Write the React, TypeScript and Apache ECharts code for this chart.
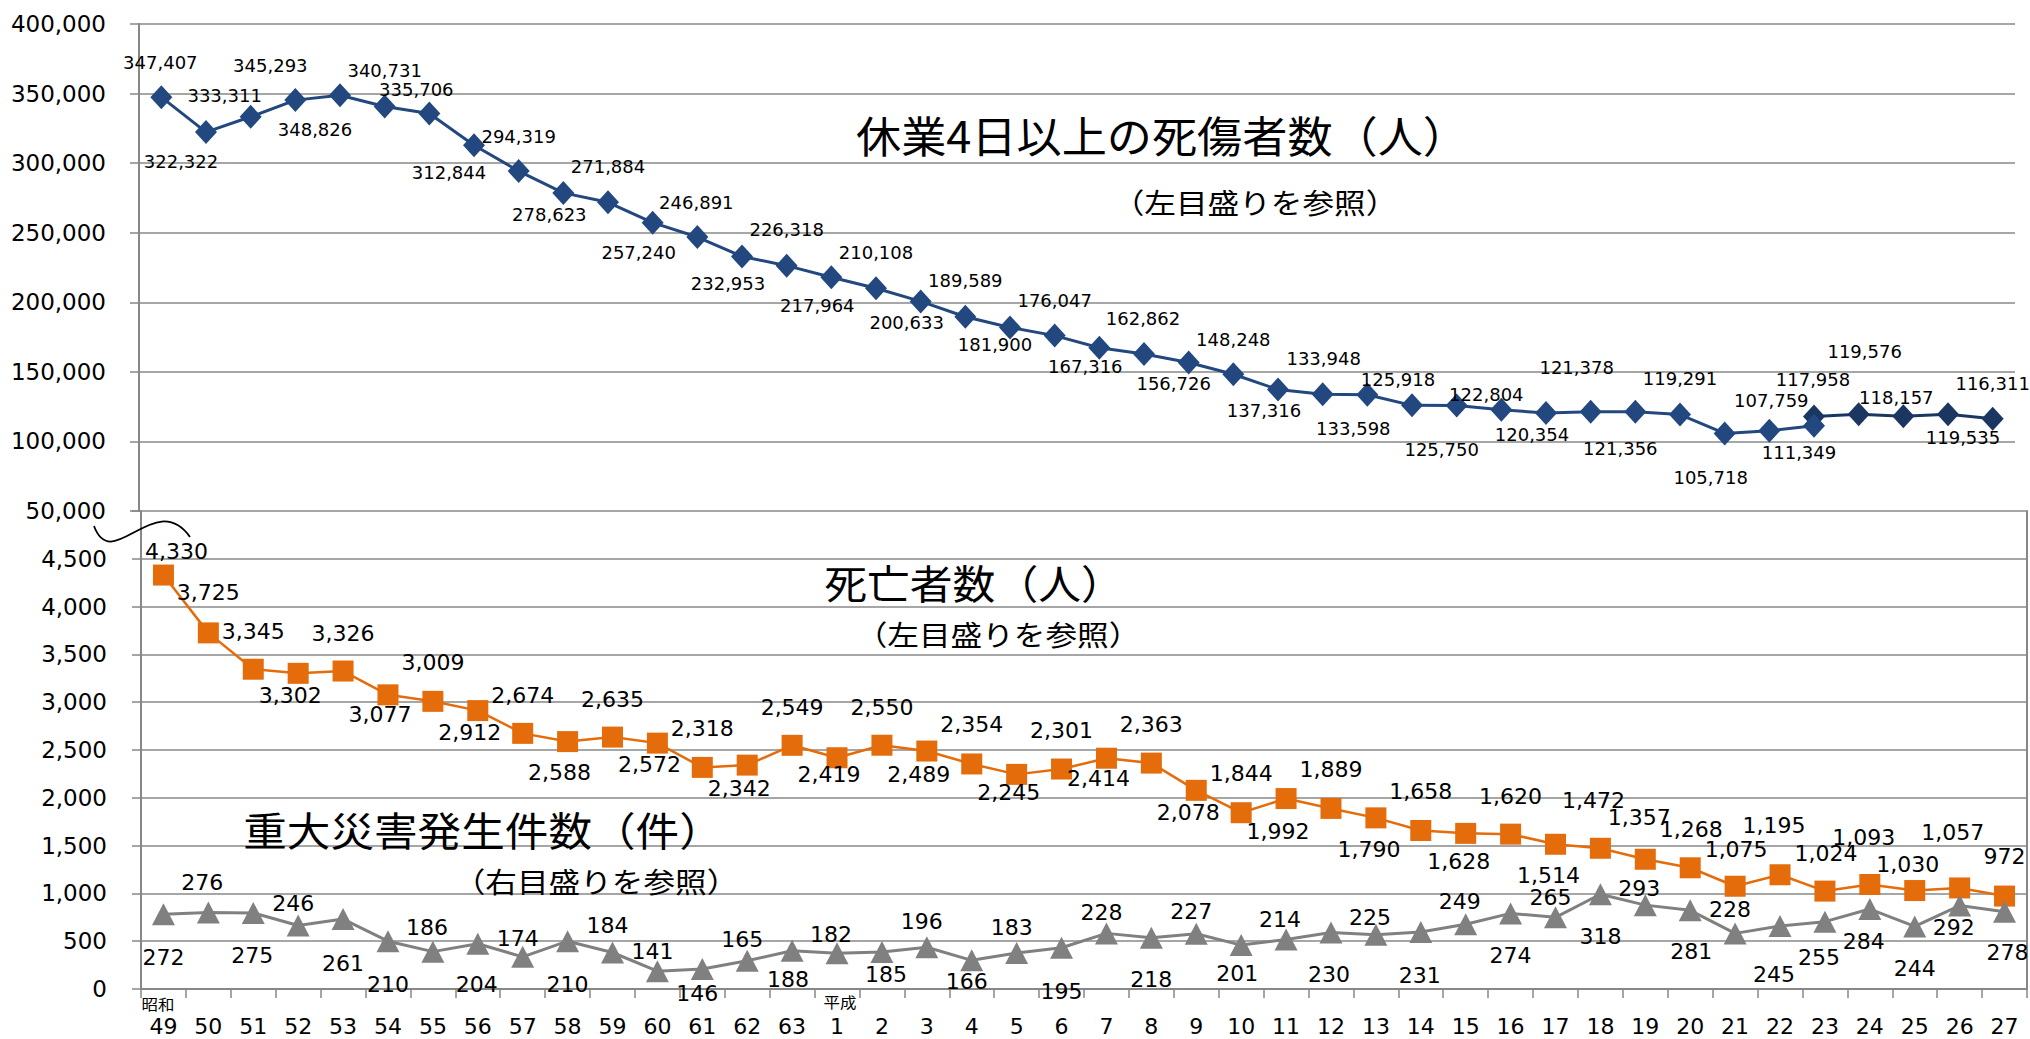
import React, { useEffect, useRef } from "react";
import * as echarts from "echarts";

// ---- categories (年) ----
const years = [
  "49", "50", "51", "52", "53", "54", "55", "56", "57", "58", "59", "60", "61", "62", "63",
  "1", "2", "3", "4", "5", "6", "7", "8", "9", "10", "11", "12", "13", "14", "15", "16",
  "17", "18", "19", "20", "21", "22", "23", "24", "25", "26", "27",
];

// 休業4日以上の死傷者数 (S49 .. H23)
const injuriesOld = [
  347407, 322322, 333311, 345293, 348826, 340731, 335706, 312844, 294319, 278623, 271884,
  257240, 246891, 232953, 226318, 217964, 210108, 200633, 189589, 181900, 176047, 167316,
  162862, 156726, 148248, 137316, 133948, 133598, 125918, 125750, 122804, 120354, 121378,
  121356, 119291, 105718, 107759, 111349,
];
// 休業4日以上の死傷者数 (H23 .. H27)
const injuriesNew = [117958, 119576, 118157, 119535, 116311];
const injuriesNewStart = 37;

// 死亡者数
const deaths = [
  4330, 3725, 3345, 3302, 3326, 3077, 3009, 2912, 2674, 2588, 2635, 2572, 2318, 2342, 2549,
  2419, 2550, 2489, 2354, 2245, 2301, 2414, 2363, 2078, 1844, 1992, 1889, 1790, 1658, 1628,
  1620, 1514, 1472, 1357, 1268, 1075, 1195, 1024, 1093, 1030, 1057, 972,
];

// 重大災害発生件数
const serious = [
  272, 276, 275, 246, 261, 210, 186, 204, 174, 210, 184, 141, 146, 165, 188,
  182, 185, 196, 166, 183, 195, 228, 218, 227, 201, 214, 230, 225, 231, 249,
  274, 265, 318, 293, 281, 228, 245, 255, 284, 244, 292, 278,
];

// ---- label placement (offset of each value label from its marker) ----
const injuriesOldLabelOffsets = [
  [-1, -35], [-25, 29], [-26, -21], [-25, -35], [-25, 34], [0, -36], [-13, -24], [-25, 27],
  [0, -35], [-14, 22], [0, -36], [-14, 30], [-1, -35], [-14, 27], [0, -36], [-14, 28],
  [0, -36], [-14, 21], [0, -36], [-15, 17], [0, -35], [-14, 19], [-1, -35], [-15, 21],
  [0, -35], [-14, 21], [1, -36], [-14, 34], [-14, -26], [-15, 44], [-15, -15], [-14, 21],
  [-14, -44], [-15, 37], [0, -36], [-14, 44], [2, -30], [-15, 27],
];
const injuriesNewLabelOffsets = [[-1, -37], [6, -63], [-7, -19], [15, 23], [0, -35]];
const deathsLabelOffsets = [
  [13, -24], [0, -40], [0, -38], [-8, 22], [0, -38], [-8, 20], [0, -39], [-8, 22],
  [0, -38], [-8, 31], [0, -38], [-8, 21], [0, -39], [-8, 23], [0, -38], [-8, 17],
  [0, -38], [-8, 23], [0, -39], [-8, 18], [0, -39], [-8, 20], [0, -39], [-8, 22],
  [0, -39], [-8, 33], [0, -39], [-7, 32], [0, -39], [-7, 28], [0, -38], [-7, 31],
  [-7, -48], [-6, -42], [1, -38], [1, -37], [-6, -49], [1, -38], [-6, -47], [-7, -26],
  [-7, -55], [0, -40],
];
const seriousLabelOffsets = [
  [0, 43], [-6, -30], [-1, 43], [-5, -22], [0, 44], [0, 43], [-6, -24], [-1, 41],
  [-5, -18], [0, 43], [-5, -27], [-5, -20], [-5, 24], [-5, -21], [-4, 29], [-6, -19],
  [4, 22], [-5, -26], [-5, 21], [-5, -25], [0, 44], [-5, -21], [0, 42], [-5, -22],
  [-4, 28], [-6, -20], [-2, 42], [-6, -17], [-1, 43], [-6, -23], [0, 42], [-5, -20],
  [0, 42], [-6, -17], [1, 41], [-5, -24], [-6, 49], [-6, 36], [-6, 32], [0, 42],
  [-6, 22], [3, 41],
];

const NUM_FONT = "DejaVu Sans";
const JP_FONT = "Noto Sans CJK JP";
const AXIS_GREY = "#878787";
const GRID_GREY = "#a6a6a6";

const fmt = (v: number) => Number(v).toLocaleString("en-US");

function withLabels(values: number[], offsets: number[][]) {
  return values.map((v, i) => ({ value: v, label: { offset: offsets[i] } }));
}

function jpText(text: string, x: number, y: number, size: number, sx: number) {
  return {
    type: "text",
    x,
    y,
    scaleX: sx,
    z: 100,
    style: {
      text,
      fontSize: size,
      fontFamily: JP_FONT,
      fill: "#000",
      align: "center",
      textAlign: "center",
      verticalAlign: "middle",
      textVerticalAlign: "middle",
    },
  };
}

export default function App() {
  const ref = useRef<HTMLDivElement>(null);

  useEffect(() => {
    if (!ref.current) return;
    const chart = echarts.init(ref.current, null, { renderer: "svg" });

    const newData: any[] = [];
    for (let i = 0; i < injuriesNewStart; i++) newData.push("-");
    withLabels(injuriesNew, injuriesNewLabelOffsets).forEach((d) => newData.push(d));

    const axisLineStyle = { color: AXIS_GREY, width: 2 };
    const yLabel = {
      color: "#000",
      fontSize: 23,
      fontFamily: NUM_FONT,
    };
    const valueLabel = (size: number) => ({
      show: true,
      position: "inside",
      color: "#000",
      fontSize: size,
      fontFamily: NUM_FONT,
      formatter: (p: any) => fmt(p.value),
    });

    const option: any = {
      animation: false,
      backgroundColor: "#ffffff",
      grid: [
        { left: 139, right: 15, top: 24, height: 487 },
        { left: 141, right: 3, top: 511, height: 478 },
      ],
      xAxis: [
        { gridIndex: 0, type: "category", data: years, boundaryGap: true, show: false },
        {
          gridIndex: 1,
          type: "category",
          data: years,
          boundaryGap: true,
          axisLine: { show: true, lineStyle: axisLineStyle },
          axisTick: { show: true, length: 9, lineStyle: { color: AXIS_GREY, width: 1.5 } },
          axisLabel: {
            interval: 0,
            color: "#000",
            fontSize: 22,
            fontFamily: NUM_FONT,
            margin: 26,
          },
        },
      ],
      yAxis: [
        {
          gridIndex: 0,
          type: "value",
          min: 50000,
          max: 400000,
          interval: 50000,
          axisLine: { show: true, lineStyle: axisLineStyle },
          axisTick: { show: true, length: 9, lineStyle: { color: AXIS_GREY, width: 1.5 } },
          axisLabel: { ...yLabel, margin: 33, formatter: (v: number) => fmt(v) },
          splitLine: { show: true, lineStyle: { color: GRID_GREY, width: 2 } },
        },
        {
          gridIndex: 1,
          type: "value",
          min: 0,
          max: 5000,
          interval: 500,
          axisLine: { show: true, lineStyle: axisLineStyle },
          axisTick: { show: true, length: 9, lineStyle: { color: AXIS_GREY, width: 1.5 } },
          axisLabel: {
            ...yLabel,
            margin: 34,
            formatter: (v: number) => (v >= 5000 ? "" : fmt(v)),
          },
          splitLine: { show: true, lineStyle: { color: GRID_GREY, width: 2 } },
        },
        {
          gridIndex: 1,
          type: "value",
          position: "right",
          min: 100,
          max: 1200,
          interval: 100,
          axisLine: { show: true, lineStyle: axisLineStyle },
          axisTick: { show: false },
          axisLabel: { show: false },
          splitLine: { show: false },
        },
      ],
      series: [
        {
          name: "休業4日以上の死傷者数（東日本大震災を含む）",
          type: "line",
          xAxisIndex: 0,
          yAxisIndex: 0,
          data: newData,
          symbol: "diamond",
          symbolSize: [22, 24],
          itemStyle: { color: "#1b3761" },
          lineStyle: { color: "#1b3761", width: 3 },
          label: valueLabel(18),
          z: 3,
        },
        {
          name: "休業4日以上の死傷者数",
          type: "line",
          xAxisIndex: 0,
          yAxisIndex: 0,
          data: withLabels(injuriesOld, injuriesOldLabelOffsets),
          symbol: "diamond",
          symbolSize: [22, 24],
          itemStyle: { color: "#22487f" },
          lineStyle: { color: "#22487f", width: 3 },
          label: valueLabel(18),
          z: 4,
        },
        {
          name: "死亡者数",
          type: "line",
          xAxisIndex: 1,
          yAxisIndex: 1,
          data: withLabels(deaths, deathsLabelOffsets),
          symbol: "rect",
          symbolSize: 21,
          itemStyle: { color: "#e46c0a" },
          lineStyle: { color: "#e46c0a", width: 2.5 },
          label: valueLabel(22),
          z: 4,
        },
        {
          name: "重大災害発生件数",
          type: "line",
          xAxisIndex: 1,
          yAxisIndex: 2,
          data: withLabels(serious, seriousLabelOffsets),
          symbol: "triangle",
          symbolSize: [23, 22],
          itemStyle: { color: "#808080" },
          lineStyle: { color: "#808080", width: 3 },
          label: valueLabel(22),
          z: 4,
        },
      ],
      graphic: [
        jpText("休業4日以上の死傷者数（人）", 1162, 134, 43, 1.05),
        jpText("（左目盛りを参照）", 1255, 202, 28, 1.13),
        jpText("死亡者数（人）", 974, 582, 40, 1.07),
        jpText("（左目盛りを参照）", 998, 634, 28, 1.13),
        jpText("重大災害発生件数（件）", 483, 828, 40, 1.09),
        jpText("（右目盛りを参照）", 596, 881, 28, 1.13),
        jpText("昭和", 158, 1004, 15, 1.1),
        jpText("平成", 840, 1002, 15, 1.1),
        {
          type: "bezierCurve",
          z: 100,
          shape: {
            x1: 94,
            y1: 526,
            cpx1: 112,
            cpy1: 575,
            cpx2: 155,
            cpy2: 488,
            x2: 190,
            y2: 537,
          },
          style: { stroke: "#000", lineWidth: 1.8, fill: null },
        },
      ],
    };

    chart.setOption(option);
    return () => {
      chart.dispose();
    };
  }, []);

  return (
    <div
      ref={ref}
      style={{ position: "fixed", left: 0, top: 0, width: 2030, height: 1039 }}
    />
  );
}
